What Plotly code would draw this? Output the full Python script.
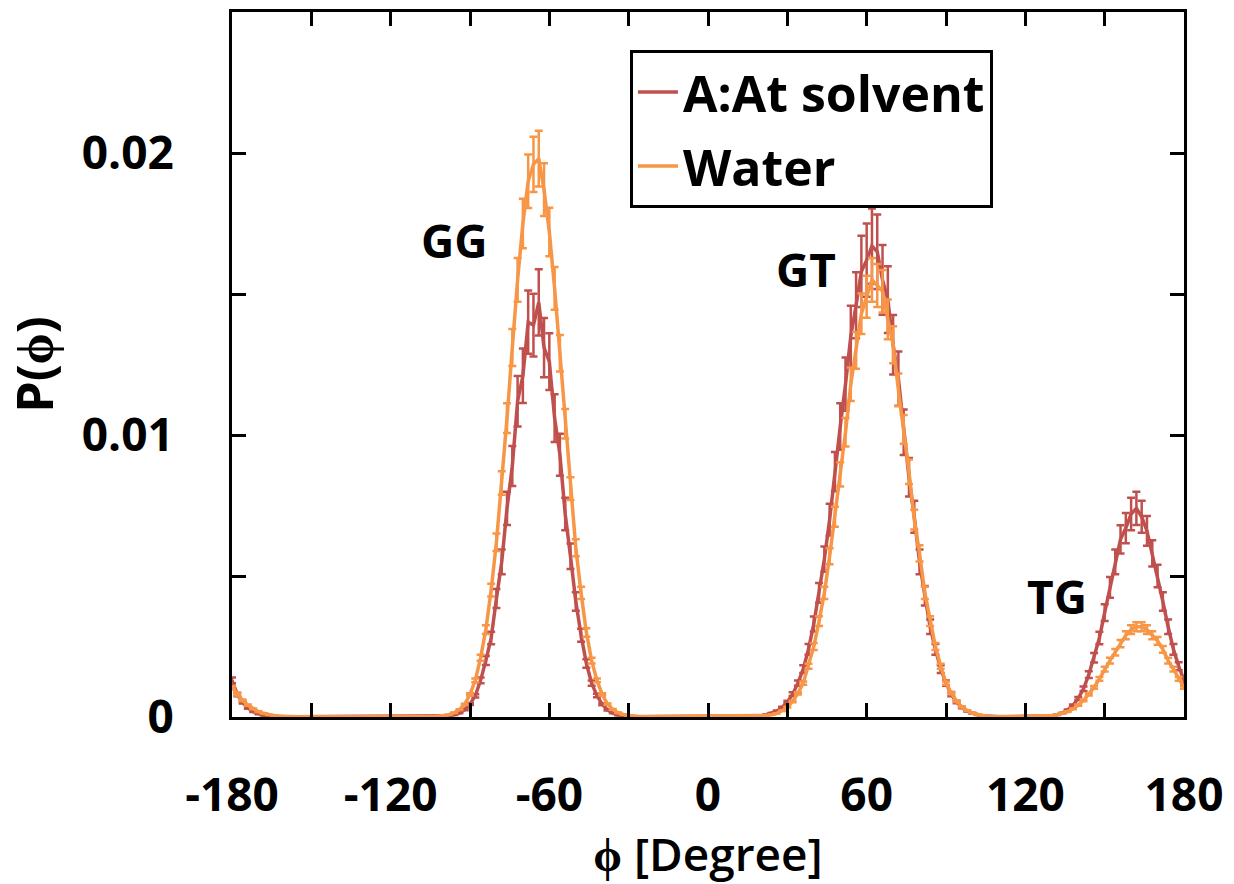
import plotly.graph_objects as go

# Dihedral angle grid (degrees), 2-degree bins
phi = list(range(-180, 181, 2))

# P(phi) for A:At solvent
p_aat = (
    [0.0013, 0.0008, 0.00052, 0.00032, 0.00019, 0.00011, 0.00006, 0.00003, 0.00002, 0.00001, 0.00001]  # -180..-160
    + [0.00001] * 28  # -158..-104
    + [0.00001, 0.00002, 0.00004, 0.00008, 0.00014, 0.00026, 0.00046, 0.00075, 0.0013, 0.0020,
       0.0028, 0.0042, 0.0055, 0.0074, 0.0089, 0.0112, 0.0121, 0.0140, 0.0139, 0.0147,
       0.0131, 0.0126, 0.0106, 0.0093, 0.0072, 0.0057, 0.0041, 0.0029, 0.0019, 0.0012,
       0.00076, 0.00045, 0.00025, 0.00014, 0.00007, 0.00004, 0.00002, 0.00002]  # -102..-28
    + [0.00001] * 22 + [0.00002]  # -26..18
    + [0.00004, 0.00008, 0.00013, 0.00021, 0.00034, 0.00053, 0.00081, 0.0012, 0.0017, 0.0024,
       0.0033, 0.0044, 0.0056, 0.0070, 0.0087, 0.0103, 0.0118, 0.0135, 0.0146, 0.0158,
       0.0162, 0.0167, 0.0165, 0.0155, 0.0148, 0.0132, 0.0120, 0.0101, 0.0085, 0.0071,
       0.0055, 0.0043, 0.0032, 0.0024, 0.0017, 0.0012, 0.0008, 0.00053, 0.00034, 0.00021,
       0.00013, 0.00008, 0.00004, 0.00002]  # 20..106
    + [0.00001] * 10  # 108..126
    + [0.00002, 0.00004, 0.00008, 0.00014, 0.00025, 0.00041, 0.00066, 0.0010, 0.0015, 0.0021,
       0.0028, 0.0037, 0.0046, 0.0055, 0.0063, 0.0067, 0.0072, 0.0074, 0.0071, 0.0066,
       0.0058, 0.0050, 0.0041, 0.0032, 0.0024, 0.0018, 0.0013]  # 128..180
)

# P(phi) for Water
p_water = (
    [0.00105, 0.0008, 0.00059, 0.00042, 0.00029, 0.00019, 0.00013, 0.00008, 0.00005, 0.00003, 0.00002]  # -180..-160
    + [0.00001] * 28  # -158..-104
    + [0.00003, 0.00005, 0.00008, 0.00015, 0.00026, 0.00045, 0.0008, 0.0013, 0.0021, 0.0031,
       0.0045, 0.0062, 0.0083, 0.0106, 0.0131, 0.0155, 0.0175, 0.0190, 0.0196, 0.0198,
       0.0187, 0.0172, 0.0152, 0.0129, 0.0104, 0.0081, 0.0060, 0.0044, 0.0030, 0.0020,
       0.0013, 0.0008, 0.00046, 0.00027, 0.00015, 0.00009, 0.00005, 0.00003]  # -102..-28
    + [0.00002] * 23  # -26..18
    + [0.00003, 0.00005, 0.00008, 0.00013, 0.00022, 0.00035, 0.00055, 0.00084, 0.0012, 0.0018,
       0.0025, 0.0034, 0.0044, 0.0057, 0.0071, 0.0086, 0.0101, 0.0118, 0.0130, 0.0143,
       0.0149, 0.0155, 0.0153, 0.0151, 0.0141, 0.0132, 0.0116, 0.0102, 0.0087, 0.0070,
       0.0058, 0.0044, 0.0034, 0.0025, 0.0018, 0.0012, 0.00085, 0.00056, 0.00036, 0.00023,
       0.00014, 0.00009, 0.00005, 0.00003]  # 20..106
    + [0.00002] * 10  # 108..126
    + [0.00003, 0.00005, 0.00008, 0.00013, 0.00019, 0.00029, 0.00042, 0.00059, 0.0008, 0.00105,
       0.00135, 0.0017, 0.0020, 0.0023, 0.0026, 0.0029, 0.0031, 0.0032, 0.0032, 0.0031,
       0.0029, 0.0027, 0.0024, 0.0020, 0.0017, 0.00135, 0.00105]  # 128..180
)

assert len(p_aat) == len(phi) == len(p_water)

series_names = ["A:At solvent", "Water"]
err_percent = [8, 5]
colors = ["#C0504D", "#F79646"]

x_tick_vals = list(range(-180, 181, 60))
x_tick_text = ["-180", "-120", "-60", "0", "60", "120", "180"]
y_tick_vals = [0, 0.01, 0.02]
y_tick_text = ["0", "0.01", "0.02"]

peak_labels = ["GG", "GT", "TG"]
peak_label_x = [-96, 37, 132]
peak_label_y = [0.0169, 0.0159, 0.0043]

FONT = "Open Sans"

fig = go.Figure()
for name, y, ep, c in zip(series_names, [p_aat, p_water], err_percent, colors):
    fig.add_trace(go.Scatter(
        x=phi, y=y, mode="lines", name=name, legendgroup=name,
        line=dict(color=c, width=3.5),
        error_y=dict(type="percent", value=ep, color=c, thickness=2.5, width=4),
    ))

for t, xx, yy in zip(peak_labels, peak_label_x, peak_label_y):
    fig.add_annotation(x=xx, y=yy, text=t, showarrow=False,
                       font=dict(family=FONT, size=46, color="black", weight="bold"))

axis_common = dict(
    showline=True, linecolor="black", linewidth=3, mirror="ticks",
    ticks="inside", ticklen=14, tickwidth=3, tickcolor="black",
    showgrid=False, zeroline=False, automargin=False,
    tickfont=dict(family=FONT, size=46, color="black", weight="bold"),
)

fig.update_xaxes(
    **axis_common,
    range=[-180, 180], tickvals=x_tick_vals, ticktext=x_tick_text,
    minor=dict(dtick=30, tick0=-180, ticks="inside", ticklen=14, tickwidth=3, tickcolor="black"),
    ticklabelstandoff=36,
    title=dict(text="ϕ [Degree]", font=dict(family=FONT, size=46, color="black", weight=600), standoff=22),
)
fig.update_yaxes(
    **axis_common,
    range=[0, 0.025], tickvals=y_tick_vals, ticktext=y_tick_text,
    minor=dict(dtick=0.005, tick0=0, ticks="inside", ticklen=14, tickwidth=3, tickcolor="black"),
    ticklabelstandoff=46,
    title=dict(text="P(ϕ)", font=dict(family=FONT, size=50, color="black", weight="bold"), standoff=20),
)

fig.update_layout(
    width=1234, height=884,
    margin=dict(l=232, r=50, t=12, b=167),
    plot_bgcolor="white", paper_bgcolor="white",
    showlegend=True,
    legend=dict(
        x=0.418, y=0.946, xanchor="left", yanchor="top",
        bordercolor="black", borderwidth=3, bgcolor="white",
        font=dict(family=FONT, size=50, color="black", weight="bold"),
        itemwidth=40,
        tracegroupgap=6,
    ),
)

fig.write_html("out.html")
